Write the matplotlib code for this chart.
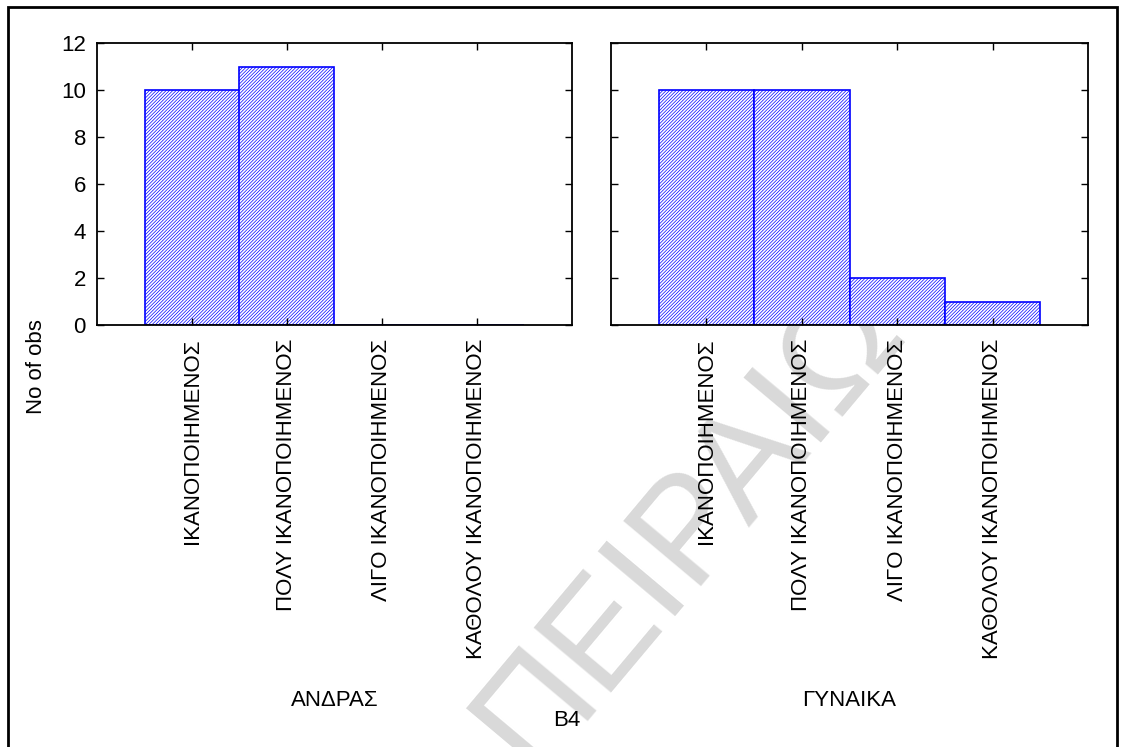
import matplotlib
matplotlib.use("Agg")
import matplotlib.pyplot as plt
from matplotlib.patches import Rectangle

plt.rcParams['font.family'] = ['Liberation Sans', 'DejaVu Sans']
plt.rcParams['hatch.linewidth'] = 0.5
plt.rcParams['hatch.color'] = '#0000ff'

categories = ["ΙΚΑΝΟΠΟΙΗΜΕΝΟΣ", "ΠΟΛΥ ΙΚΑΝΟΠΟΙΗΜΕΝΟΣ",
              "ΛΙΓΟ ΙΚΑΝΟΠΟΙΗΜΕΝΟΣ", "ΚΑΘΟΛΟΥ ΙΚΑΝΟΠΟΙΗΜΕΝΟΣ"]
groups = ["ΑΝΔΡΑΣ", "ΓΥΝΑΙΚΑ"]
counts_men = [10, 11, 0, 0]
counts_women = [10, 10, 2, 1]
yticks = [0, 2, 4, 6, 8, 10, 12]

W, H = 1121, 747
fig = plt.figure(figsize=(W / 100, H / 100), dpi=100)

def px_axes(x0, x1, y0, y1):
    return fig.add_axes([x0 / W, 1 - y1 / H, (x1 - x0) / W, (y1 - y0) / H])

ax = px_axes(97, 572, 43, 325)
bx = px_axes(611, 1088, 43, 325)

fs = 16
for a, vals, grp in [(ax, counts_men, groups[0]), (bx, counts_women, groups[1])]:
    a.set_facecolor('none')
    pos = list(range(1, len(categories) + 1))
    a.bar(pos, vals, width=1.0, color='white', edgecolor='#0000ff',
          linewidth=1.2, hatch='//////////')
    a.set_xlim(0, 5)
    a.set_ylim(0, 12)
    a.set_xticks(pos)
    a.set_xticklabels(categories, rotation=90, fontsize=fs)
    a.set_yticks(yticks)
    a.tick_params(direction='in', top=True, right=True, length=5, width=1,
                  labelsize=fs)
    a.tick_params(axis='x', pad=10)
    a.tick_params(axis='y', pad=8)
    for s in a.spines.values():
        s.set_linewidth(1.3)
    p = a.get_position()
    fig.text(p.x0 + p.width / 2, 1 - 700 / H, grp, ha='center', va='center',
             fontsize=fs)

bx.set_yticklabels([])

fig.text(37 / W, 1 - 367 / H, "No of obs", rotation=90, ha='center',
         va='center', fontsize=fs)
fig.text(567 / W, 1 - 720 / H, "B4", ha='center', va='center', fontsize=fs)

# outer frame
fig.patches.append(Rectangle((8 / W, -0.05), (1117 - 8) / W, 1.05 - 7 / H,
                             transform=fig.transFigure, fill=False,
                             edgecolor='black', linewidth=2))

# watermark, sits under the bars
fig.text(690 / W, 1 - 525 / H, "ΠΕΙΡΑΙΩ", rotation=50, ha='center',
         va='center', fontsize=106, color='#d9d9d9', zorder=-1)

fig.savefig("out.png", dpi=100)
